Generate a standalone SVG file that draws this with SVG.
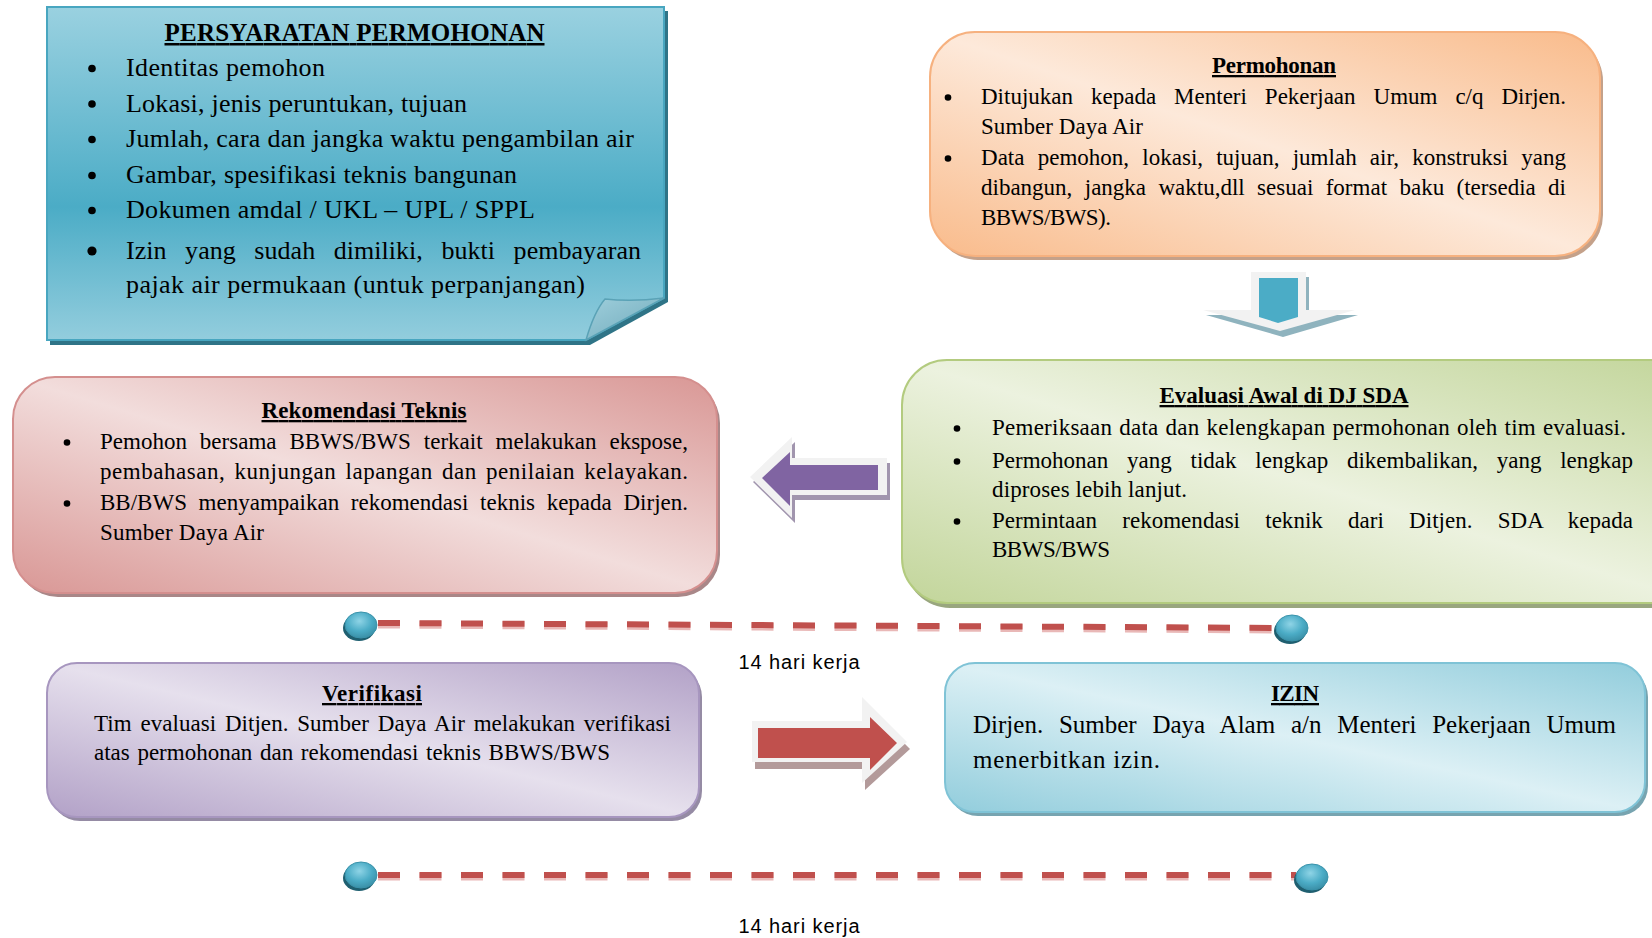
<svg xmlns="http://www.w3.org/2000/svg" width="1652" height="938" viewBox="0 0 1652 938">
<style>
  .t{font-family:"Liberation Serif","Times New Roman",serif;fill:#000}
  .h{font-weight:bold;text-decoration:underline;text-anchor:middle;font-size:23px}
  .s26{font-size:26px}
  .s25{font-size:25px}
  .s23{font-size:23px}
  .lbl{font-family:"Liberation Sans",Arial,sans-serif;font-size:20px;fill:#000;text-anchor:middle}
  .dash{fill:none;stroke:#c0504d;stroke-width:6;stroke-dasharray:22 19.5}
  .dashlo{fill:none;stroke:#e9b8b7;stroke-width:8;stroke-dasharray:22 19.5}
  .knobsh{fill:#1f5f70}
  .knob{fill:url(#gKnob);stroke:#3a93ab;stroke-width:1}
  .arrLight{fill:#f2f2f2}
</style>
<defs>
  <linearGradient id="gReq" x1="0" y1="0" x2="0" y2="1">
    <stop offset="0" stop-color="#9ad1e0"/>
    <stop offset="0.6" stop-color="#4bacc6"/>
    <stop offset="1" stop-color="#93cddd"/>
  </linearGradient>
  <linearGradient id="gFlap" x1="0" y1="0" x2="1" y2="1">
    <stop offset="0" stop-color="#9fcfdc"/>
    <stop offset="1" stop-color="#6fa9ba"/>
  </linearGradient>
  <linearGradient id="gOrange" x1="0" y1="1" x2="1" y2="0">
    <stop offset="0" stop-color="#f9bb8b"/>
    <stop offset="0.5" stop-color="#fde9da"/>
    <stop offset="1" stop-color="#f9bb8b"/>
  </linearGradient>
  <linearGradient id="gPink" x1="0" y1="1" x2="1" y2="0">
    <stop offset="0" stop-color="#d99795"/>
    <stop offset="0.5" stop-color="#f2dddc"/>
    <stop offset="1" stop-color="#d99795"/>
  </linearGradient>
  <linearGradient id="gGreen" x1="0" y1="1" x2="1" y2="0">
    <stop offset="0" stop-color="#c2d59a"/>
    <stop offset="0.5" stop-color="#ecf2df"/>
    <stop offset="1" stop-color="#c2d59a"/>
  </linearGradient>
  <linearGradient id="gPurple" x1="0" y1="1" x2="1" y2="0">
    <stop offset="0" stop-color="#b2a1c7"/>
    <stop offset="0.5" stop-color="#e6e0ed"/>
    <stop offset="1" stop-color="#b2a1c7"/>
  </linearGradient>
  <linearGradient id="gAqua" x1="0" y1="1" x2="1" y2="0">
    <stop offset="0" stop-color="#92cddc"/>
    <stop offset="0.5" stop-color="#dcf0f5"/>
    <stop offset="1" stop-color="#92cddc"/>
  </linearGradient>
  <radialGradient id="gKnob" cx="0.45" cy="0.35" r="0.65">
    <stop offset="0" stop-color="#8fd4e6"/>
    <stop offset="0.6" stop-color="#4bacc6"/>
    <stop offset="1" stop-color="#3b90a8"/>
  </radialGradient>
</defs>

<rect width="1652" height="938" fill="#ffffff"/>

<!-- Requirements sheet with curled corner -->
<g id="persyaratan">
  <path d="M50,11 H668 V302 L590,345 H50 Z" fill="#2f7487"/>
  <path d="M47,7 H664 V298 L586,340 H47 Z" fill="url(#gReq)" stroke="#48a6c0" stroke-width="2"/>
  <path d="M586,340 Q594,312 605,299 Q632,302 664,298 Z" fill="url(#gFlap)" stroke="#5aa2b6" stroke-width="1.5"/>
  <text class="t h" x="354.5" y="41" style="font-size:25px" textLength="380">PERSYARATAN PERMOHONAN</text>
  <g fill="#000">
    <circle cx="92" cy="68.5" r="3.8"/>
    <circle cx="92" cy="104" r="3.8"/>
    <circle cx="92" cy="139.5" r="3.8"/>
    <circle cx="92" cy="175.5" r="3.8"/>
    <circle cx="92" cy="210.5" r="3.8"/>
    <circle cx="92" cy="251" r="4.6"/>
  </g>
  <text class="t s26" x="126" y="76" textLength="199">Identitas pemohon</text>
  <text class="t s26" x="126" y="111.5" textLength="341">Lokasi, jenis peruntukan, tujuan</text>
  <text class="t s26" x="126" y="147" textLength="508">Jumlah, cara dan jangka waktu pengambilan air</text>
  <text class="t s26" x="126" y="183" textLength="391">Gambar, spesifikasi teknis bangunan</text>
  <text class="t s26" x="126" y="218" textLength="409">Dokumen amdal / UKL – UPL / SPPL</text>
  <text class="t s26" x="126" y="259" word-spacing="12" textLength="515">Izin yang sudah dimiliki, bukti pembayaran</text>
  <text class="t s26" x="126" y="293" textLength="459">pajak air permukaan (untuk perpanjangan)</text>
</g>

<!-- Application -->
<g id="permohonan">
  <rect x="933" y="36" width="670" height="224" rx="45" fill="#c4a18a"/>
  <rect x="930" y="32" width="670" height="224" rx="45" fill="url(#gOrange)" stroke="#f6b17f" stroke-width="2"/>
  <text class="t h" x="1274" y="73" textLength="124">Permohonan</text>
  <g fill="#000">
    <circle cx="948" cy="97.5" r="3.3"/>
    <circle cx="948" cy="158.5" r="3.3"/>
  </g>
  <text class="t s23" x="981" y="104" word-spacing="12.2" textLength="585">Ditujukan kepada Menteri Pekerjaan Umum c/q Dirjen.</text>
  <text class="t s23" x="981" y="134" textLength="162">Sumber Daya Air</text>
  <text class="t s23" x="981" y="165" word-spacing="7.4" textLength="585">Data pemohon, lokasi, tujuan, jumlah air, konstruksi yang</text>
  <text class="t s23" x="981" y="195" word-spacing="6.6" textLength="585">dibangun, jangka waktu,dll sesuai format baku (tersedia di</text>
  <text class="t s23" x="981" y="225" textLength="130">BBWS/BWS).</text>
</g>

<!-- Technical recommendation -->
<g id="rekomendasi">
  <rect x="16" y="381" width="704" height="216" rx="42" fill="#a98788"/>
  <rect x="13" y="377" width="704" height="216" rx="42" fill="url(#gPink)" stroke="#d48f8e" stroke-width="2"/>
  <text class="t h" x="364" y="418" textLength="205">Rekomendasi Teknis</text>
  <g fill="#000">
    <circle cx="67" cy="442.5" r="3.3"/>
    <circle cx="67" cy="503.5" r="3.3"/>
  </g>
  <text class="t s23" x="100" y="449" word-spacing="7.2" textLength="588">Pemohon bersama BBWS/BWS terkait melakukan ekspose,</text>
  <text class="t s23" x="100" y="479" word-spacing="3" textLength="588">pembahasan, kunjungan lapangan dan penilaian kelayakan.</text>
  <text class="t s23" x="100" y="510" word-spacing="5.9" textLength="588">BB/BWS menyampaikan rekomendasi teknis kepada Dirjen.</text>
  <text class="t s23" x="100" y="540" textLength="164">Sumber Daya Air</text>
</g>

<!-- Initial evaluation -->
<g id="evaluasi">
  <rect x="905" y="365" width="800" height="243" rx="45" fill="#99a67f"/>
  <rect x="902" y="360" width="800" height="243" rx="45" fill="url(#gGreen)" stroke="#b3cb7f" stroke-width="2"/>
  <text class="t h" x="1284" y="403" textLength="249">Evaluasi Awal di DJ SDA</text>
  <g fill="#000">
    <circle cx="957" cy="428.5" r="3.3"/>
    <circle cx="957" cy="461.5" r="3.3"/>
    <circle cx="957" cy="521.5" r="3.3"/>
  </g>
  <text class="t s23" x="992" y="435" word-spacing="1" textLength="634">Pemeriksaan data dan kelengkapan permohonan oleh tim evaluasi.</text>
  <text class="t s23" x="992" y="468" word-spacing="13" textLength="641">Permohonan yang tidak lengkap dikembalikan, yang lengkap</text>
  <text class="t s23" x="992" y="497" textLength="195">diproses lebih lanjut.</text>
  <text class="t s23" x="992" y="528" word-spacing="19.4" textLength="641">Permintaan rekomendasi teknik dari Ditjen. SDA kepada</text>
  <text class="t s23" x="992" y="557" textLength="118">BBWS/BWS</text>
</g>

<!-- Verification -->
<g id="verifikasi">
  <rect x="50" y="667" width="652" height="154" rx="30" fill="#958ba4"/>
  <rect x="47" y="663" width="652" height="154" rx="30" fill="url(#gPurple)" stroke="#a796bf" stroke-width="2"/>
  <text class="t h" x="372" y="701" textLength="100">Verifikasi</text>
  <text class="t s23" x="94" y="731" word-spacing="3" textLength="577">Tim evaluasi Ditjen. Sumber Daya Air melakukan verifikasi</text>
  <text class="t s23" x="94" y="760" word-spacing="1.9" textLength="516">atas permohonan dan rekomendasi teknis BBWS/BWS</text>
</g>

<!-- Permit -->
<g id="izin">
  <rect x="948" y="667" width="700" height="149" rx="30" fill="#77a4b0"/>
  <rect x="945" y="663" width="700" height="149" rx="30" fill="url(#gAqua)" stroke="#7fc3d6" stroke-width="2"/>
  <text class="t h" x="1295" y="701" textLength="48">IZIN</text>
  <text class="t s25" x="973" y="733" word-spacing="9.5" textLength="643">Dirjen. Sumber Daya Alam a/n Menteri Pekerjaan Umum</text>
  <text class="t s25" x="973" y="768" textLength="187">menerbitkan izin.</text>
</g>

<g id="connectors">
  <!-- down arrow: Permohonan to Evaluasi -->
  <g id="arrow-down">
    <path d="M1254,277 H1309 V315 H1358 L1283,337 L1206,315 H1254 Z" fill="#8fb3be"/>
    <path d="M1251,272 H1306 V310 H1355 L1280,331 L1203,310 H1251 Z" class="arrLight"/>
    <path d="M1259,278 H1298 V317 L1278,323 L1259,317 Z" fill="#4bacc6"/>
  </g>
  <!-- left arrow: Evaluasi to Rekomendasi -->
  <g id="arrow-left">
    <path d="M753,482 L795,442 V463 H890 V500 H795 V523 Z" fill="#a195ae"/>
    <path d="M750,477 L792,437 V458 H887 V495 H792 V518 Z" class="arrLight"/>
    <path d="M762,478 L790,452 V465 H878 V490 H790 V506 Z" fill="#8064a2"/>
  </g>
  <!-- right arrow: Verifikasi to Izin -->
  <g id="arrow-right">
    <path d="M755,728 H865 V704 L910,749 L865,790 V769 H755 Z" fill="#b39a9a"/>
    <path d="M752,721 H862 V697 L907,742 L862,783 V762 H752 Z" class="arrLight"/>
    <path d="M758,728 H870 V717 L897,743 L870,770 V758 H758 Z" fill="#c0504d"/>
  </g>

  <!-- time line 1 -->
  <g id="timeline-1">
    <line x1="378" y1="624.5" x2="1292" y2="629.5" class="dashlo"/>
    <line x1="378" y1="623" x2="1292" y2="628" class="dash"/>
    <ellipse cx="359" cy="628" rx="16" ry="13" class="knobsh"/>
    <ellipse cx="361" cy="625" rx="16" ry="13" class="knob"/>
    <ellipse cx="1290" cy="631" rx="16" ry="13" class="knobsh"/>
    <ellipse cx="1292" cy="628" rx="16" ry="13" class="knob"/>
    <text class="lbl" x="799" y="669" textLength="121">14 hari kerja</text>
  </g>
  <!-- time line 2 -->
  <g id="timeline-2">
    <line x1="378" y1="876.5" x2="1296" y2="876.5" class="dashlo"/>
    <line x1="378" y1="875" x2="1296" y2="875" class="dash"/>
    <ellipse cx="359" cy="878" rx="16" ry="13" class="knobsh"/>
    <ellipse cx="361" cy="875" rx="16" ry="13" class="knob"/>
    <ellipse cx="1310" cy="880" rx="16" ry="13" class="knobsh"/>
    <ellipse cx="1312" cy="877" rx="16" ry="13" class="knob"/>
    <text class="lbl" x="799" y="933" textLength="121">14 hari kerja</text>
  </g>
</g>
</svg>
